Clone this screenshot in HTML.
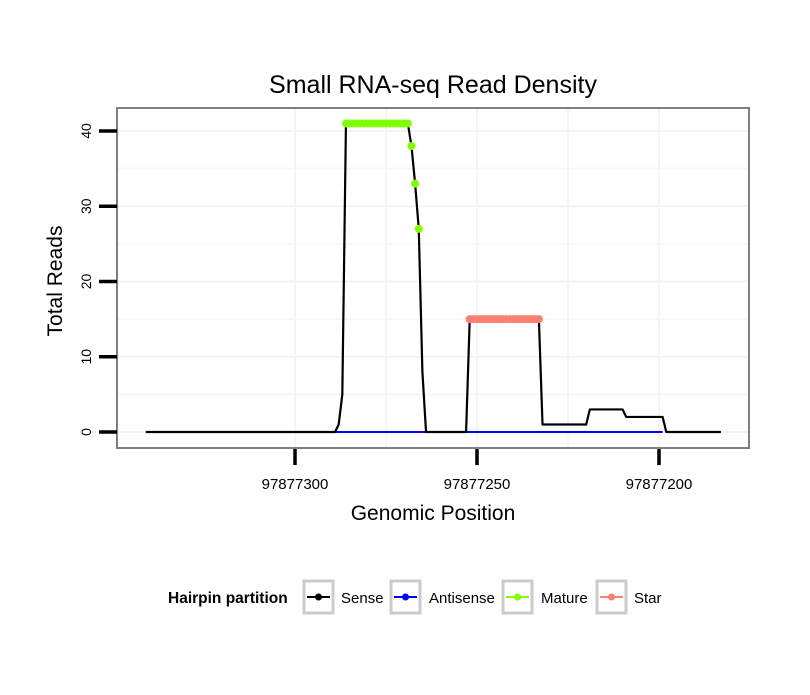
<!DOCTYPE html>
<html><head><meta charset="utf-8"><style>
body{margin:0;background:#fff;font-family:"Liberation Sans",sans-serif}
</style></head><body>
<svg width="810" height="690" xmlns="http://www.w3.org/2000/svg" font-family="Liberation Sans, sans-serif">
<g id="grid"></g>
<g id="marks"></g>
<rect x="117" y="108" width="632" height="340" fill="none" stroke="#7f7f7f" stroke-width="2"/>
<g id="axes"></g>
<text x="433" y="93" font-size="25" text-anchor="middle">Small RNA-seq Read Density</text>
<text x="433" y="520" font-size="21" text-anchor="middle">Genomic Position</text>
<text transform="translate(62,281) rotate(-90)" font-size="21" text-anchor="middle">Total Reads</text>
<g>
<text x="168" y="603" font-size="15.5" font-weight="bold">Hairpin partition</text>
<g><rect x="304" y="581" width="29" height="32" fill="#fff" stroke="#ccc" stroke-width="3"/><line x1="307" y1="597" x2="330" y2="597" stroke="#000" stroke-width="2"/><circle cx="318.5" cy="597" r="3.5" fill="#000"/><text x="341" y="603" font-size="15">Sense</text></g>
<g><rect x="391" y="581" width="29" height="32" fill="#fff" stroke="#ccc" stroke-width="3"/><line x1="394" y1="597" x2="417" y2="597" stroke="#00f" stroke-width="2"/><circle cx="405.5" cy="597" r="3.5" fill="#00f"/><text x="429" y="603" font-size="15">Antisense</text></g>
<g><rect x="503" y="581" width="29" height="32" fill="#fff" stroke="#ccc" stroke-width="3"/><line x1="506" y1="597" x2="529" y2="597" stroke="#7fff00" stroke-width="2"/><circle cx="517.5" cy="597" r="3.5" fill="#7fff00"/><text x="541" y="603" font-size="15">Mature</text></g>
<g><rect x="597" y="581" width="29" height="32" fill="#fff" stroke="#ccc" stroke-width="3"/><line x1="600" y1="597" x2="623" y2="597" stroke="#fa8072" stroke-width="2"/><circle cx="611.5" cy="597" r="3.5" fill="#fa8072"/><text x="634" y="603" font-size="15">Star</text></g>
</g>
</svg>
<script>
const senseX=[341,289,288,287,286,269,268,267,266,265,264,253,252,233,232,220,219,210,209,199,198,183];
const senseY=[0,0,1,5,41,41,38,33,27,8,0,0,15,15,1,1,3,3,2,2,0,0];
const antiX=[289,199];
const antiY=[0,0];
const matureX=[286,285,284,283,282,281,280,279,278,277,276,275,274,273,272,271,270,269,268,267,266];
const matureY=[41,41,41,41,41,41,41,41,41,41,41,41,41,41,41,41,41,41,38,33,27];
const starX=[252,251,250,249,248,247,246,245,244,243,242,241,240,239,238,237,236,235,234,233];
const starY=[15,15,15,15,15,15,15,15,15,15,15,15,15,15,15,15,15,15,15,15];
const xTicks=[97877300,97877250,97877200];
const xMinor=[97877275,97877225];
const yTicks=[0,10,20,30,40];
const yMinor=[5,15,25,35];
const BASE=97877000;
const NS='http://www.w3.org/2000/svg';
function sx(p){return 295+(97877300-(BASE+p))*3.64;}
function sxa(v){return 295+(97877300-v)*3.64;}
function sy(v){return 432-v*7.525;}
function mk(t,a,parent){const e=document.createElementNS(NS,t);for(const k in a)e.setAttribute(k,a[k]);document.getElementById(parent).appendChild(e);return e;}
yMinor.forEach(v=>{const e=mk('line',{x1:118,x2:748,y1:sy(v),y2:sy(v),stroke:'#f7f7f7','stroke-width':2},'grid');

});
yTicks.forEach(v=>{const e=mk('line',{x1:118,x2:748,y1:sy(v),y2:sy(v),stroke:'#f3f3f3','stroke-width':2},'grid');

});
xMinor.concat(xTicks).forEach(v=>{const e=mk('line',{x1:sxa(v),x2:sxa(v),y1:109,y2:447,stroke:'#f5f5f5','stroke-width':2},'grid');

});
function line(X,Y,c,w,name){const p=mk('polyline',{points:X.map((x,i)=>sx(x)+','+sy(Y[i])).join(' '),fill:'none',stroke:c,'stroke-width':w,'stroke-linejoin':'round'},'marks');

}
line(antiX,antiY,'#0000ff',2,'antisense-line');
line(senseX,senseY,'#000',2.2,'sense-line');
function pts(X,Y,c,name){X.forEach((x,i)=>{const e=mk('circle',{cx:sx(x),cy:sy(Y[i]),r:4,fill:c},'marks');

});}
pts(matureX,matureY,'#7fff00','mature-point');
pts(starX,starY,'#fa8072','star-point');
yTicks.forEach(v=>{const t=mk('line',{x1:99,x2:117,y1:sy(v),y2:sy(v),stroke:'#000','stroke-width':3.5},'axes');


const l=mk('text',{transform:'translate(91,'+sy(v)+') rotate(-90)','font-size':14,'text-anchor':'middle'},'axes');l.textContent=v;

});
xTicks.forEach(v=>{const t=mk('line',{x1:sxa(v),x2:sxa(v),y1:449,y2:465,stroke:'#000','stroke-width':3.5},'axes');


const l=mk('text',{x:sxa(v),y:489,'font-size':15,'text-anchor':'middle'},'axes');l.textContent=v;

});
</script>
</body></html>
